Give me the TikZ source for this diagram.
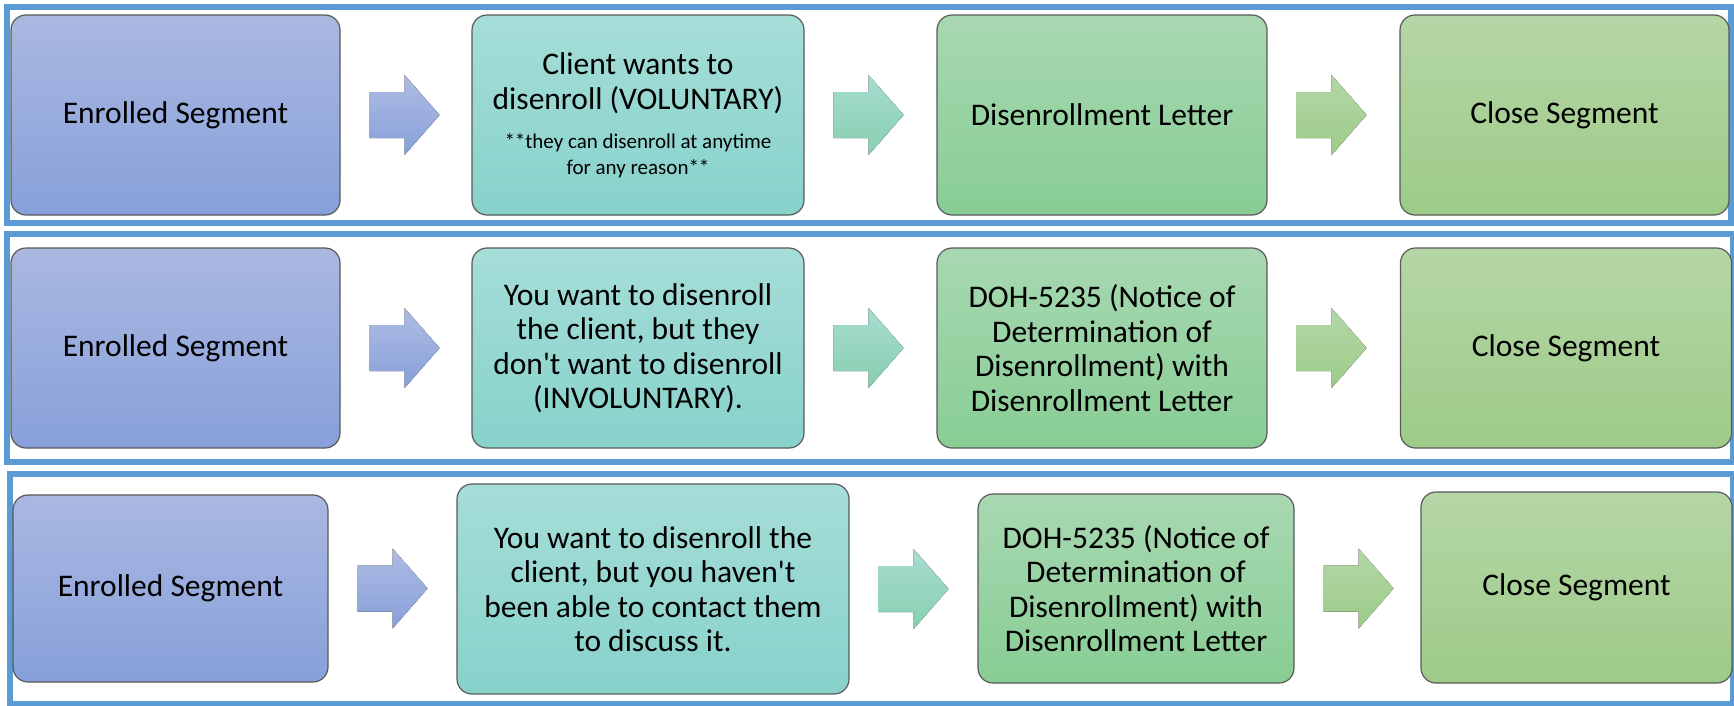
\documentclass[tikz,border=0pt]{standalone}
\usepackage{fontspec}
\setmainfont{Carlito}
\usetikzlibrary{calc}

\definecolor{frameblue}{RGB}{91,155,213}
\definecolor{enrolTop}{RGB}{170,184,225}
\definecolor{enrolBot}{RGB}{135,160,218}
\definecolor{tealTop}{RGB}{166,221,216}
\definecolor{tealBot}{RGB}{135,210,203}
\definecolor{greenTop}{RGB}{168,216,178}
\definecolor{greenBot}{RGB}{136,205,148}
\definecolor{oliveTop}{RGB}{181,214,166}
\definecolor{oliveBot}{RGB}{157,203,136}

\newcommand{\smallnote}{\fontsize{21}{23}\selectfont}
% block arrow after node #1
\newcommand{\flowarrow}[2]{%
	\fill[#2] ($(#1.east)+(29,-23)$) -- ++(35,0) -- ++(0,-17) -- ++(35,40)
		-- ++(-35,40) -- ++(0,-17) -- ++(-35,0) -- cycle;}

\begin{document}
\begin{tikzpicture}[
			x=1pt, y=-1pt,
			rowframe/.style={draw=frameblue, line width=6pt},
			segbox/.style={rounded corners=15pt, draw=black!65, line width=1.2pt,
				align=center, inner sep=0pt, font=\fontsize{31.5}{34.5}\selectfont,
				minimum height=200pt},
			enrolbox/.style={segbox, top color=enrolTop, bottom color=enrolBot},
			reasonbox/.style={segbox, top color=tealTop, bottom color=tealBot},
			letterbox/.style={segbox, top color=greenTop, bottom color=greenBot},
			closebox/.style={segbox, top color=oliveTop, bottom color=oliveBot},
			arrow a/.style={top color=enrolTop!95!white, bottom color=enrolBot},
			arrow b/.style={top color=tealTop!80!greenTop, bottom color=tealBot!50!greenBot},
			arrow c/.style={top color=oliveTop!90!greenTop, bottom color=oliveBot}
			]
			\useasboundingbox (0,0) rectangle (1734,705);

			\draw[rowframe] (7,7) rectangle (1731,223);
			\draw[rowframe] (7,234) rectangle (1733,461.5);
			\draw[rowframe] (10,474) rectangle (1733,704);

			% voluntary
			\node[enrolbox, minimum width=329pt] (enrolA) at (175.5,115) {Enrolled Segment};
			\node[reasonbox, minimum width=332pt] (voluntary) at (638,115)
				{Client wants to\\disenroll (VOLUNTARY)\\[5.5pt]{\smallnote **they can disenroll at anytime}\\[-9.5pt]{\smallnote for any reason**}};
			\node[letterbox, minimum width=330pt] (letterA) at (1102,115) {Disenrollment Letter};
			\node[closebox, minimum width=329pt] (closeA) at (1564.5,115) {Close Segment};

			% involuntary
			\node[enrolbox, minimum width=329pt] (enrolB) at (175.5,348) {Enrolled Segment};
			\node[reasonbox, minimum width=332pt] (involuntary) at (638,348)
				{You want to disenroll\\the client, but they\\don\textquotesingle t want to disenroll\\(INVOLUNTARY).};
			\node[letterbox, minimum width=330pt] (noticeB) at (1102,348)
				{DOH-5235 (Notice of\\Determination of\\Disenrollment) with\\Disenrollment Letter};
			\node[closebox, minimum width=331pt] (closeB) at (1566,348) {Close Segment};

			% no contact
			\node[enrolbox, minimum width=315pt, minimum height=187pt] (enrolC) at (170.5,588.5) {Enrolled Segment};
			\node[reasonbox, minimum width=392pt, minimum height=210pt] (nocontact) at (653,589)
				{You want to disenroll the\\client, but you haven\textquotesingle t\\been able to contact them\\to discuss it.};
			\node[letterbox, minimum width=316pt, minimum height=189pt] (noticeC) at (1136,588.5)
				{DOH-5235 (Notice of\\Determination of\\Disenrollment) with\\Disenrollment Letter};
			\node[closebox, minimum width=311pt, minimum height=191pt] (closeC) at (1576.5,587.5) {Close Segment};

			\flowarrow{enrolA}{arrow a}
			\flowarrow{voluntary}{arrow b}
			\flowarrow{letterA}{arrow c}
			\flowarrow{enrolB}{arrow a}
			\flowarrow{involuntary}{arrow b}
			\flowarrow{noticeB}{arrow c}
			\flowarrow{enrolC}{arrow a}
			\flowarrow{nocontact}{arrow b}
			\flowarrow{noticeC}{arrow c}
		\end{tikzpicture}
\end{document}
